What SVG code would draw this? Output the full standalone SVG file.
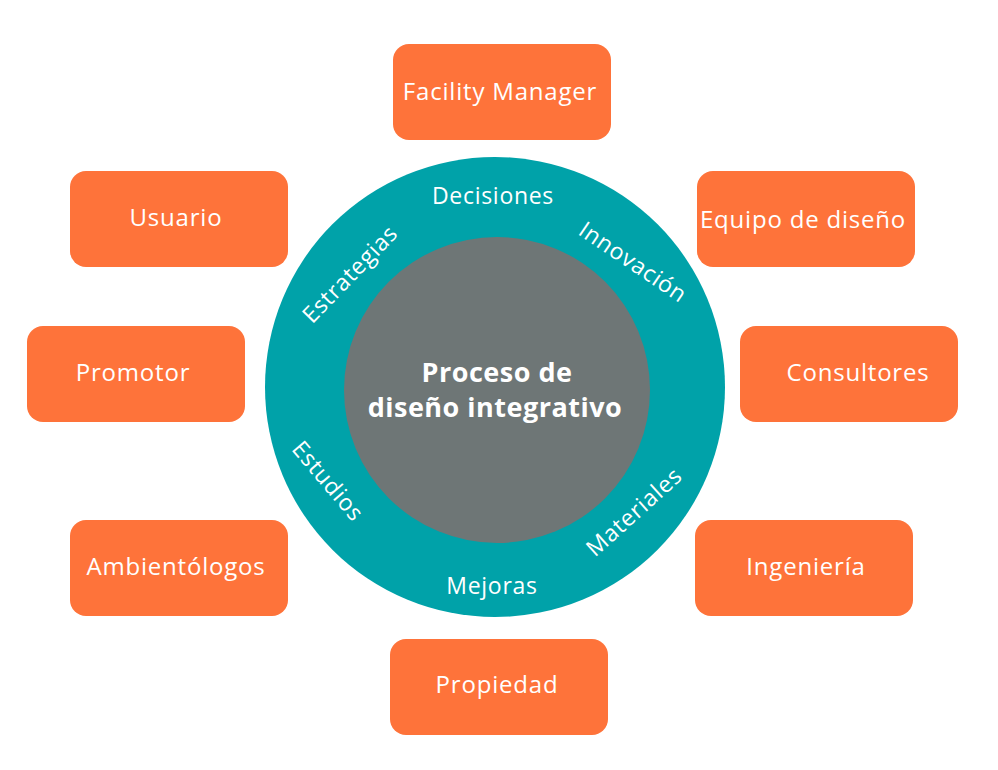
<svg xmlns="http://www.w3.org/2000/svg" width="998" height="770" viewBox="0 0 998 770">
<style>
.box{fill:#FE733A}
.bt{font-family:"Open Sans","Liberation Sans",sans-serif;font-size:24px;letter-spacing:0.8px;fill:#FFFFFF;text-anchor:middle}
.rt{font-family:"Open Sans","Liberation Sans",sans-serif;font-size:23px;letter-spacing:0.7px;fill:#FFFFFF;text-anchor:middle}
.ct{font-family:"Open Sans","Liberation Sans",sans-serif;font-size:27px;letter-spacing:0.5px;font-weight:bold;fill:#FFFFFF;text-anchor:middle}
</style>
<rect width="998" height="770" fill="#FFFFFF"/>
<g id="ring">
<circle cx="495" cy="387" r="230" fill="#00A2A9"/>
<text class="rt" x="493" y="204">Decisiones</text>
<text class="rt" transform="translate(633,262) rotate(34)" x="0" y="8">Innovación</text>
<text class="rt" transform="translate(350,274) rotate(-46)" x="0" y="8">Estrategias</text>
<text class="rt" transform="translate(328,481) rotate(49.5)" x="0" y="8">Estudios</text>
<text class="rt" transform="translate(634,512) rotate(-42)" x="0" y="8">Materiales</text>
<text class="rt" x="492" y="594">Mejoras</text>
</g>
<g id="center">
<circle cx="497" cy="390" r="153" fill="#6E7676"/>
<text class="ct" x="497" y="382">Proceso de</text>
<text class="ct" x="495" y="417">diseño integrativo</text>
</g>
<g id="n-facility">
<rect class="box" x="393" y="44" width="218" height="96" rx="16"/>
<text class="bt" x="500" y="100">Facility Manager</text>
</g>
<g id="n-usuario">
<rect class="box" x="70" y="171" width="218" height="96" rx="16"/>
<text class="bt" x="176" y="226">Usuario</text>
</g>
<g id="n-equipo">
<rect class="box" x="697" y="171" width="218" height="96" rx="16"/>
<text class="bt" x="803" y="228">Equipo de diseño</text>
</g>
<g id="n-promotor">
<rect class="box" x="27" y="326" width="218" height="96" rx="16"/>
<text class="bt" x="133" y="381">Promotor</text>
</g>
<g id="n-consultores">
<rect class="box" x="740" y="326" width="218" height="96" rx="16"/>
<text class="bt" x="858" y="381">Consultores</text>
</g>
<g id="n-ambientologos">
<rect class="box" x="70" y="520" width="218" height="96" rx="16"/>
<text class="bt" x="176" y="575">Ambientólogos</text>
</g>
<g id="n-ingenieria">
<rect class="box" x="695" y="520" width="218" height="96" rx="16"/>
<text class="bt" x="806" y="575">Ingeniería</text>
</g>
<g id="n-propiedad">
<rect class="box" x="390" y="639" width="218" height="96" rx="16"/>
<text class="bt" x="497" y="693">Propiedad</text>
</g>
<g id="connectors"></g>
</svg>
